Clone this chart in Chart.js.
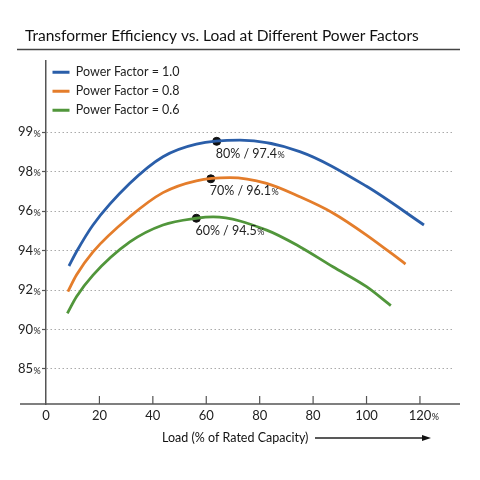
<!DOCTYPE html>
<html>
<head>
<meta charset="utf-8">
<title>Transformer Efficiency vs. Load</title>
<script src="https://cdn.jsdelivr.net/npm/chart.js@4.4.0/dist/chart.umd.min.js"></script>
<style>
  html, body { margin: 0; padding: 0; background: #fff; }
</style>
</head>
<body>
<canvas id="chart" width="480" height="480"></canvas>
<script>
// axis ticks as printed on the picture (spacing is even, values are not)
const yTickValues = [85, 90, 92, 94, 96, 98, 99];
const xTickLabels = ['0', '20', '40', '60', '80', '80', '100', '120'];

const seriesLabels = ['Power Factor = 1.0', 'Power Factor = 0.8', 'Power Factor = 0.6'];
const seriesColors = ['#2a5ea9', '#e47d2b', '#51963b'];

// load in axis units (one step = 20), efficiency in %
const loadPF10 = [8.6, 11.4, 17.6, 31.4, 43.8, 56.3, 72.6, 95.0, 120.0, 141.5];
const effPF10  = [93.22, 93.94, 95.30, 97.41, 98.38, 98.70, 98.80, 98.51, 97.26, 95.30];

const loadPF08 = [8.2, 11.4, 17.6, 31.4, 43.8, 56.3, 68.8, 82.6, 95.0, 107.4, 120.0, 134.6];
const effPF08  = [91.92, 92.76, 93.94, 95.72, 96.94, 97.54, 97.70, 97.41, 96.73, 95.91, 94.79, 93.32];

const loadPF06 = [8.0, 11.4, 17.6, 31.4, 43.8, 56.3, 62.6, 82.6, 95.0, 107.4, 120.0, 129.1];
const effPF06  = [90.82, 91.66, 92.76, 94.44, 95.30, 95.64, 95.71, 95.04, 94.20, 93.18, 92.17, 91.21];

// marked points and their captions
const dotLoads = [63.9, 61.7, 56.3];
const dotEffs  = [98.77, 97.64, 95.64];
const peakLoads = ['80', '70', '60'];
const peakEffs  = ['97.4', '96.1', '94.5'];

const FONT = 'Lato, "Open Sans", sans-serif';

// place an efficiency on the evenly spaced tick ladder
function toAxis(eff) {
  const t = yTickValues;
  if (eff <= t[0]) return (eff - t[0]) / (t[1] - t[0]);
  for (let i = 0; i < t.length - 1; i++) {
    if (eff <= t[i + 1]) return i + (eff - t[i]) / (t[i + 1] - t[i]);
  }
  const n = t.length - 1;
  return n + (eff - t[n]) / (t[n] - t[n - 1]);
}

function points(loads, effs) {
  return loads.map((x, i) => ({ x: x, y: toAxis(effs[i]) }));
}

const seriesData = [points(loadPF10, effPF10), points(loadPF08, effPF08), points(loadPF06, effPF06)];

const datasets = seriesData.map((d, i) => ({
  label: seriesLabels[i],
  data: d,
  borderColor: seriesColors[i],
  backgroundColor: seriesColors[i],
  borderWidth: 2.8,
  pointRadius: 0,
  pointStyle: 'line',
  cubicInterpolationMode: 'monotone',
  fill: false
}));

datasets.push({
  label: 'peaks',
  data: points(dotLoads, dotEffs),
  showLine: false,
  pointRadius: 4,
  pointBackgroundColor: '#111',
  pointBorderColor: '#111',
  borderColor: '#111'
});

function smallPct(ctx, x, y) {
  ctx.font = '9px ' + FONT;
  ctx.textAlign = 'left';
  ctx.textBaseline = 'alphabetic';
  ctx.fillText('%', x, y);
}

const decor = {
  id: 'decor',
  afterLayout(chart) {
    // title starts further right than the axis labels
    if (chart.titleBlock) chart.titleBlock.left = 25;
    // vertical legend inside the plot: move it down to the plot top
    const lg = chart.legend;
    if (lg) {
      const h = lg.bottom - lg.top;
      lg.top = chart.chartArea.top - 1.5;
      lg.bottom = lg.top + h;
    }
  },
  afterDraw(chart) {
    const ctx = chart.ctx;
    const area = chart.chartArea;
    const xs = chart.scales.x;
    const ys = chart.scales.y;
    ctx.save();
    ctx.strokeStyle = '#444';
    ctx.fillStyle = '#222';

    // rule under the title
    ctx.lineWidth = 1.5;
    ctx.beginPath();
    ctx.moveTo(17, 49.5);
    ctx.lineTo(460, 49.5);
    ctx.stroke();

    // x axis line, wider than the plot
    ctx.strokeStyle = '#555';
    ctx.beginPath();
    ctx.moveTo(20, area.bottom);
    ctx.lineTo(460, area.bottom);
    ctx.stroke();

    // tick marks pointing up into the plot
    ctx.lineWidth = 1.2;
    xs.ticks.forEach(t => {
      if (t.value === 0) return;
      const px = xs.getPixelForValue(t.value);
      ctx.beginPath();
      ctx.moveTo(px, area.bottom - 8);
      ctx.lineTo(px, area.bottom);
      ctx.stroke();
    });

    // small % after the last x label
    const last = xs.ticks[xs.ticks.length - 1];
    ctx.font = '13px ' + FONT;
    const w = ctx.measureText(xTickLabels[xTickLabels.length - 1]).width;
    smallPct(ctx, xs.getPixelForValue(last.value) + w / 2 + 0.5, area.bottom + 4 + 7.8 + 4.6);

    // small % after each y label
    ys.ticks.forEach(t => {
      smallPct(ctx, area.left - 4 - 9 + 0.5, ys.getPixelForValue(t.value) + 4.6);
    });

    // captions under the marked points
    const meta = chart.getDatasetMeta(3);
    meta.data.forEach((pt, i) => {
      const txt = peakLoads[i] + '% / ' + peakEffs[i];
      ctx.font = '12.5px ' + FONT;
      ctx.textAlign = 'left';
      ctx.textBaseline = 'alphabetic';
      const tx = pt.x - 1;
      const ty = pt.y + 16.5;
      ctx.fillText(txt, tx, ty);
      smallPct(ctx, tx + ctx.measureText(txt).width + 0.5, ty);
    });

    // x axis caption with arrow
    ctx.font = '12.5px ' + FONT;
    ctx.textAlign = 'left';
    ctx.textBaseline = 'middle';
    ctx.fillStyle = '#111';
    ctx.fillText('Load (% of Rated Capacity)', 162, 437.5);
    ctx.strokeStyle = '#222';
    ctx.lineWidth = 1.3;
    ctx.beginPath();
    ctx.moveTo(315, 438);
    ctx.lineTo(425, 438);
    ctx.stroke();
    ctx.beginPath();
    ctx.moveTo(431, 438);
    ctx.lineTo(422, 435);
    ctx.lineTo(422, 441);
    ctx.closePath();
    ctx.fill();

    ctx.restore();
  }
};

new Chart(document.getElementById('chart'), {
  type: 'line',
  data: { datasets: datasets },
  options: {
    responsive: false,
    animation: false,
    layout: { padding: { left: 5, right: 28, top: 0, bottom: 0 } },
    scales: {
      x: {
        type: 'linear',
        min: 0,
        max: 152,
        afterBuildTicks: s => { s.ticks = xTickLabels.map((_, i) => ({ value: i * 20 })); },
        afterFit: s => { s.height = 76; },
        ticks: {
          callback: (v, i) => xTickLabels[i],
          padding: 4,
          maxRotation: 0,
          autoSkip: false,
          color: '#222',
          font: { family: FONT, size: 13 }
        },
        grid: { display: false, drawTicks: false },
        border: { display: false }
      },
      y: {
        type: 'linear',
        min: -0.888,
        max: 7.806,
        afterBuildTicks: s => { s.ticks = yTickValues.map((_, i) => ({ value: i })); },
        afterFit: s => { s.width = 41; },
        ticks: {
          callback: (v, i) => String(yTickValues[i]),
          padding: 9,
          color: '#222',
          font: { family: FONT, size: 13 }
        },
        grid: {
          color: '#aaa',
          lineWidth: 1,
          tickLength: 4,
          tickColor: '#555',
          tickWidth: 1.2,
          tickBorderDash: []
        },
        border: { display: true, color: '#555', width: 1.5, dash: [1.5, 2.5] }
      }
    },
    plugins: {
      title: {
        display: true,
        text: 'Transformer Efficiency vs. Load at Different Power Factors',
        align: 'start',
        color: '#111',
        font: { family: FONT, size: 15.5, weight: 'normal' },
        padding: { top: 26.7, bottom: 15.7 }
      },
      legend: {
        position: 'chartArea',
        align: 'start',
        labels: {
          usePointStyle: true,
          pointStyle: 'line',
          pointStyleWidth: 17,
          padding: 6.5,
          color: '#222',
          font: { family: FONT, size: 12.5 },
          filter: item => item.datasetIndex < 3
        }
      },
      tooltip: { enabled: false }
    }
  },
  plugins: [decor]
});
</script>
</body>
</html>
